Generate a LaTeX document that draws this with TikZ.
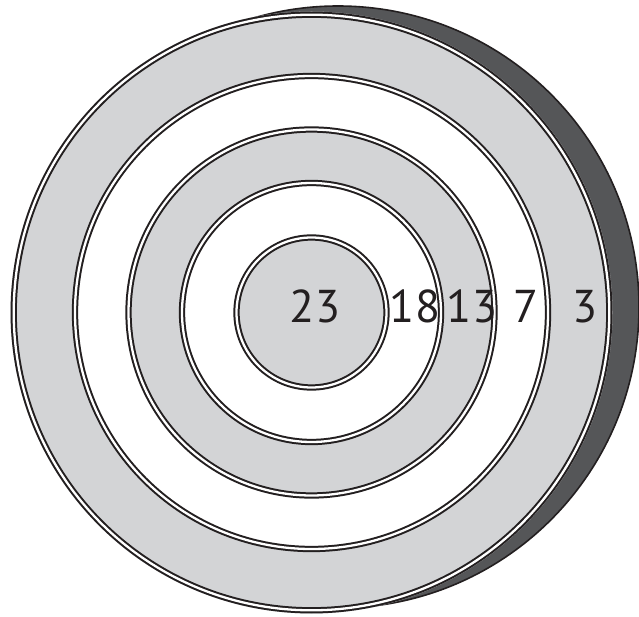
\documentclass[tikz,border=0pt]{standalone}
\usepackage{fontspec}
\setmainfont{PT Sans}
\definecolor{ringgray}{RGB}{211,212,214}
\definecolor{sidegray}{RGB}{85,86,88}
\definecolor{inkblack}{RGB}{35,31,32}
\begin{document}
\begin{tikzpicture}[x=1pt,y=-1pt,
  ringline/.style={draw=inkblack, line width=2pt, double=white, double distance=2.3pt},
  num/.style={anchor=base, font=\fontsize{46}{46}\selectfont, text=inkblack, inner sep=0pt}]
\useasboundingbox (0,0) rectangle (639,617);
\coordinate (c) at (311.5,312.5);
\coordinate (back) at (338,307);
% back side of the disc
\draw[fill=sidegray, draw=inkblack, line width=1.6pt] (back) circle[radius=301];
% coloured bands
\fill[ringgray] (c) circle[radius=301];
\fill[white] (c) circle[radius=236.5];
\fill[ringgray] (c) circle[radius=183];
\fill[white] (c) circle[radius=129.5];
\fill[ringgray] (c) circle[radius=75];
% double boundary lines
\draw[ringline] (c) circle[radius=297.8];
\draw[ringline] (c) circle[radius=236.5];
\draw[ringline] (c) circle[radius=183];
\draw[ringline] (c) circle[radius=129.5];
\draw[ringline] (c) circle[radius=75];
% scores
\node[num] (n23) at (315,322) {23};
\node[num] (n18) at (415,322) {18};
\node[num] (n13) at (472,322) {13};
\node[num] (n7) at (526,322) {7};
\node[num] (n3) at (585,322) {3};
\end{tikzpicture}
\end{document}
